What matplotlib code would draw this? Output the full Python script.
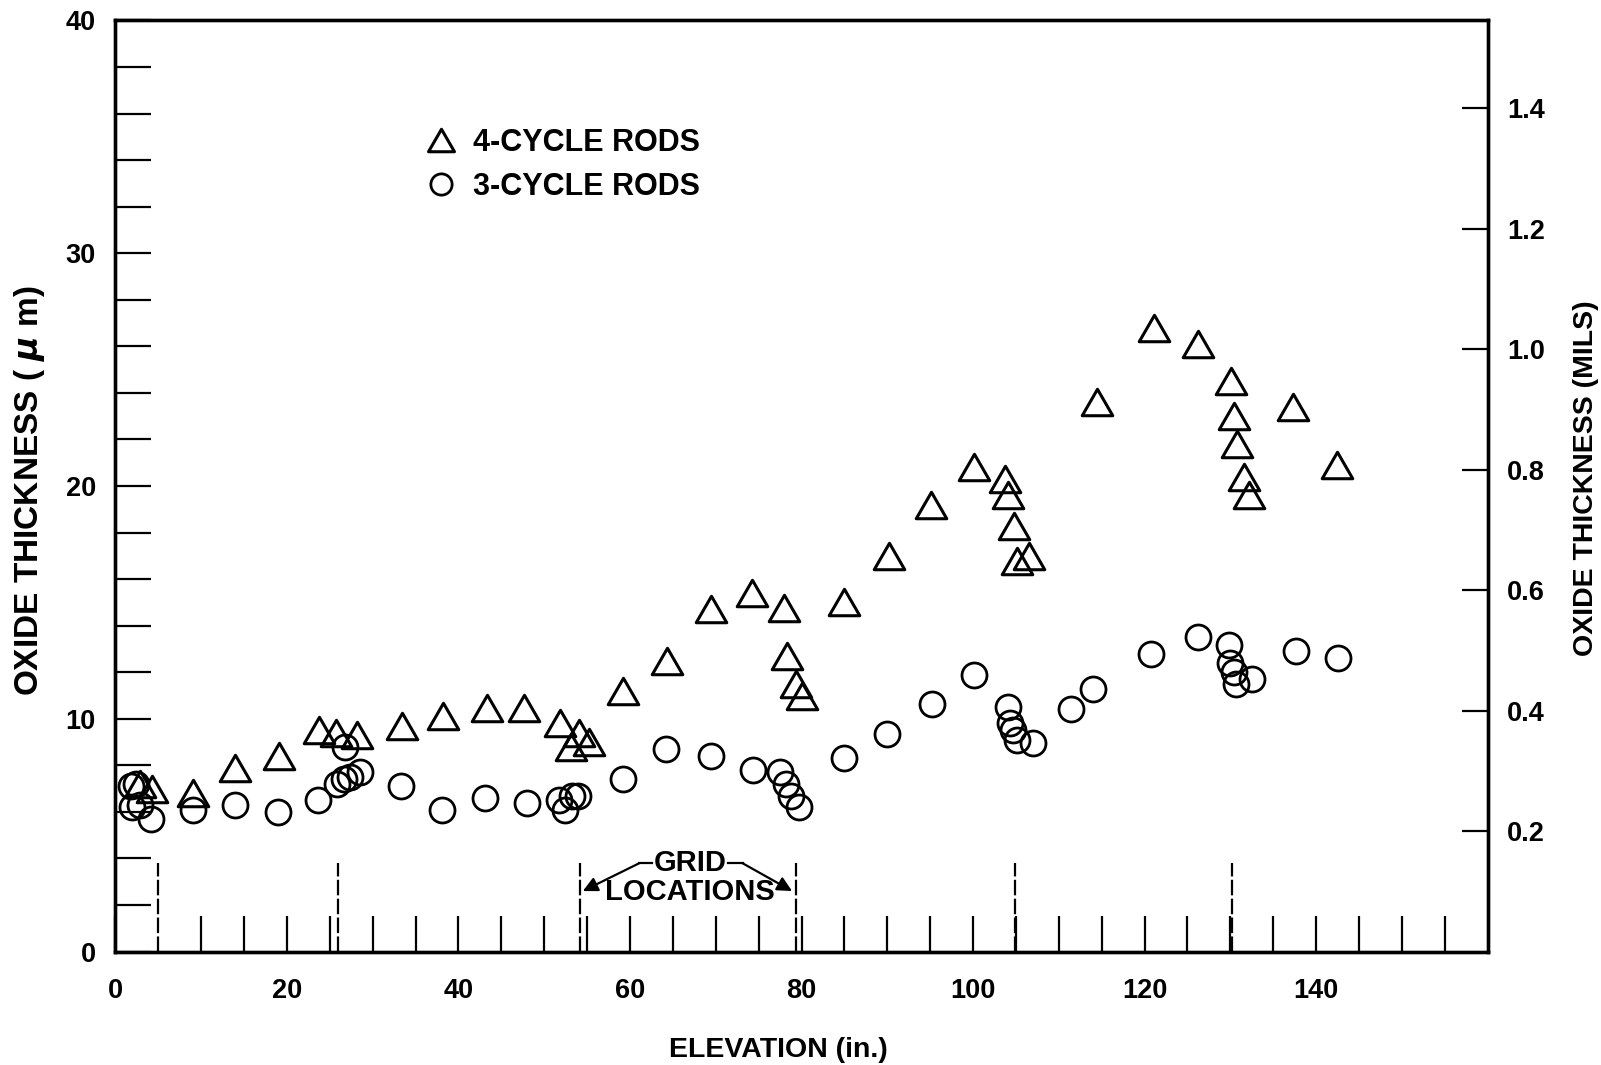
import numpy as np
import matplotlib
matplotlib.use("Agg")
import matplotlib.pyplot as plt
from matplotlib.path import Path
from matplotlib.ticker import FixedLocator

plt.rcParams['font.family'] = ['Liberation Sans', 'DejaVu Sans']
plt.rcParams['font.weight'] = 'bold'

# 4-cycle rods (triangles): elevation (in.), oxide thickness (um)
x4 = [2.9, 4.3, 9.0, 13.9, 19.1, 23.7, 25.7, 28.2, 33.4, 38.2, 43.3, 47.6,
      51.8, 54.0, 53.1, 55.2, 59.2, 64.3, 69.5, 74.2, 78.0, 78.3, 79.3, 80.1,
      85.0, 90.2, 95.1, 100.1, 103.7, 104.1, 104.8, 105.1, 106.5, 114.5,
      121.1, 126.2, 130.1, 130.4, 130.8, 131.6, 132.2, 137.3, 142.4]
y4 = [7.2, 7.0, 6.8, 7.9, 8.4, 9.5, 9.4, 9.3, 9.7, 10.1, 10.45, 10.45,
      9.8, 9.4, 8.8, 9.0, 11.2, 12.5, 14.7, 15.4, 14.75, 12.7, 11.5, 11.0,
      15.0, 17.0, 19.2, 20.8, 20.3, 19.6, 18.3, 16.8, 17.0, 23.6,
      26.8, 26.1, 24.5, 23.0, 21.8, 20.4, 19.6, 23.4, 20.9]

# 3-cycle rods (circles)
x3 = [1.8, 2.4, 1.9, 2.9, 4.2, 9.0, 13.9, 18.9, 23.6, 25.8, 26.7, 27.4, 28.5,
      26.8, 33.3, 38.1, 43.1, 48.0, 51.7, 52.4, 53.2, 53.9, 59.2, 64.2, 69.4,
      74.3, 77.5, 78.2, 78.8, 79.7, 85.0, 90.0, 95.2, 100.1, 104.1, 104.3,
      104.6, 105.1, 107.0, 111.4, 114.0, 120.8, 126.2, 129.8, 130.0, 130.4,
      130.6, 132.5, 137.6, 142.5]
y3 = [7.1, 7.2, 6.2, 6.3, 5.7, 6.1, 6.3, 6.0, 6.5, 7.2, 7.4, 7.5, 7.7,
      8.8, 7.1, 6.1, 6.6, 6.4, 6.5, 6.1, 6.7, 6.7, 7.4, 8.7, 8.4,
      7.8, 7.7, 7.2, 6.7, 6.2, 8.3, 9.35, 10.65, 11.9, 10.5, 9.8,
      9.5, 9.1, 8.95, 10.4, 11.3, 12.8, 13.5, 13.15, 12.4, 12.0,
      11.5, 11.7, 12.9, 12.6]

grid_locs = [5.0, 26.0, 54.2, 79.3, 104.9, 130.2]
mils_ticks = [0.2, 0.4, 0.6, 0.8, 1.0, 1.2, 1.4]
um_per_mil = 25.88   # scale as drawn on the original right axis

fig = plt.figure(figsize=(16.01, 10.65), dpi=100)
ax = fig.add_axes([0.0721, 0.1065, 0.8571, 0.8743])

tri = Path([(-1, -0.866), (1, -0.866), (0, 0.866), (-1, -0.866)],
           [Path.MOVETO, Path.LINETO, Path.LINETO, Path.CLOSEPOLY])

ax.plot(x4, y4, linestyle='none', marker=tri, markersize=22, mfc='none',
        mec='black', mew=2.2, label='4-CYCLE RODS')
ax.plot(x3, y3, linestyle='none', marker='o', markersize=18, mfc='none',
        mec='black', mew=2.0, label='3-CYCLE RODS')

# grid location markers
for g in grid_locs:
    ax.plot([g, g], [0, 3.8], color='black', lw=1.6, linestyle=(0, (7, 1.5)))

ax.text(67.0, 3.8, 'GRID', ha='center', va='center', fontsize=21, fontweight='bold')
ax.text(67.0, 2.55, 'LOCATIONS', ha='center', va='center', fontsize=21, fontweight='bold')
ax.plot([61.0, 62.6], [3.8, 3.8], color='black', lw=1.6)
ax.plot([71.4, 73.2], [3.8, 3.8], color='black', lw=1.6)
ax.annotate('', xy=(54.5, 2.6), xytext=(61.1, 3.8),
            arrowprops=dict(arrowstyle='-|>', color='black', lw=1.6,
                            mutation_scale=22, shrinkA=0, shrinkB=0))
ax.annotate('', xy=(78.9, 2.6), xytext=(73.1, 3.8),
            arrowprops=dict(arrowstyle='-|>', color='black', lw=1.6,
                            mutation_scale=22, shrinkA=0, shrinkB=0))

ax.set_xlim(0, 160)
ax.set_ylim(0, 40)

ax.set_xticks(np.arange(0, 141, 20))
ax.xaxis.set_minor_locator(FixedLocator([v for v in range(10, 160, 5) if v % 20 != 0]))
ax.set_yticks([0, 10, 20, 30, 40])
ax.yaxis.set_minor_locator(FixedLocator([v for v in range(2, 40, 2) if v % 10 != 0]))

ax.tick_params(axis='x', which='both', direction='in', length=26, width=1.6,
               labelsize=19.5, pad=19)
ax.tick_params(axis='y', which='both', direction='in', length=26, width=1.6,
               labelsize=19.5, pad=14)
for lab in ax.get_xticklabels() + ax.get_yticklabels():
    lab.set_fontweight('bold')

for s in ax.spines.values():
    s.set_linewidth(2.4)

ax.set_xlabel('ELEVATION (in.)', fontsize=20.5, fontweight='bold')
ax.xaxis.set_label_coords(0.483, -0.092)
ax.set_ylabel('OXIDE THICKNESS ( $\\mu$ m)', fontsize=24, fontweight='bold')
ax.yaxis.set_label_coords(-0.050, 0.495)

ax2 = ax.twinx()
ax2.set_ylim(0, 40 / um_per_mil)
ax2.set_yticks(mils_ticks)
ax2.set_yticklabels(['%.1f' % v for v in mils_ticks])
ax2.tick_params(axis='y', direction='in', length=19, width=1.6, labelsize=19.5, pad=14)
for lab in ax2.get_yticklabels():
    lab.set_fontweight('bold')
for s in ax2.spines.values():
    s.set_linewidth(2.4)
ax2.set_ylabel('OXIDE THICKNESS (MILS)', fontsize=20.5, fontweight='bold')
ax2.yaxis.set_label_coords(1.062, 0.508)

leg = ax.legend(loc='upper left', bbox_to_anchor=(0.206, 0.914), frameon=False,
                prop={'size': 22, 'weight': 'bold'}, markerscale=0.85,
                handlelength=1.0, handletextpad=0.55, labelspacing=0.45)

fig.savefig('out.png', dpi=100, facecolor='white')
